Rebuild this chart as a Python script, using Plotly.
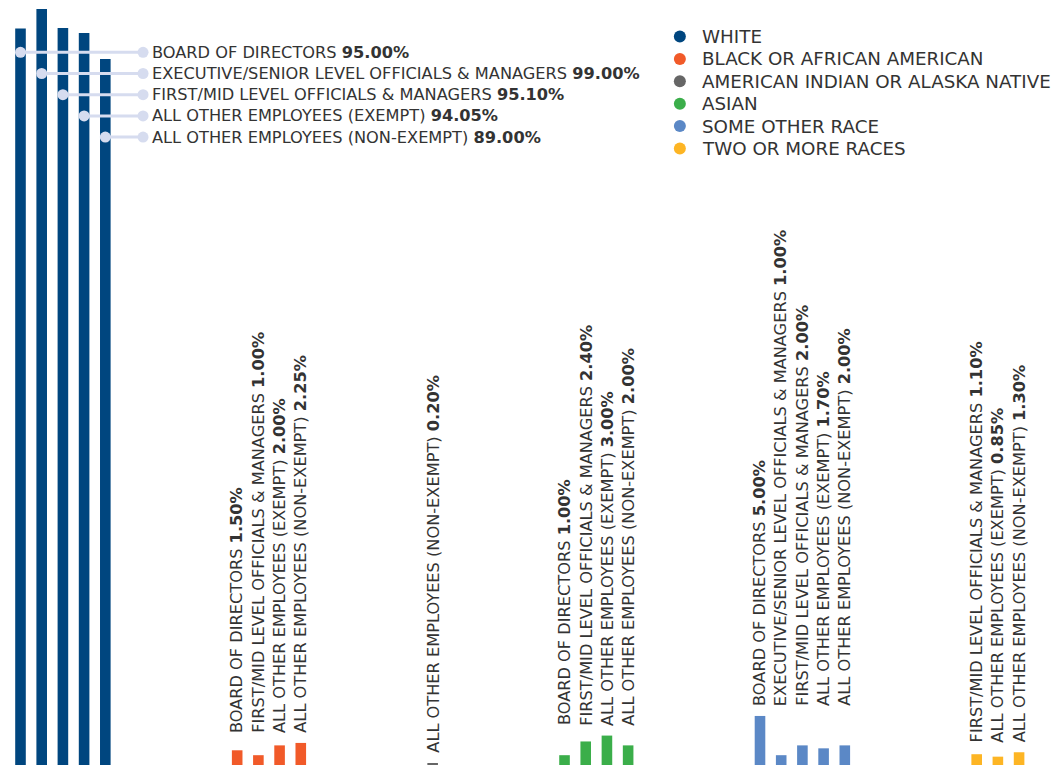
import plotly.graph_objects as go

# ---------------- data ----------------
races = ["WHITE", "BLACK OR AFRICAN AMERICAN", "AMERICAN INDIAN OR ALASKA NATIVE",
         "ASIAN", "SOME OTHER RACE", "TWO OR MORE RACES"]
categories = ["BOARD OF DIRECTORS",
              "EXECUTIVE/SENIOR LEVEL OFFICIALS & MANAGERS",
              "FIRST/MID LEVEL OFFICIALS & MANAGERS",
              "ALL OTHER EMPLOYEES (EXEMPT)",
              "ALL OTHER EMPLOYEES (NON-EXEMPT)"]
white = [95.00, 99.00, 95.10, 94.05, 89.00]
black = [1.50, None, 1.00, 2.00, 2.25]
am_indian = [None, None, None, None, 0.20]
asian = [1.00, None, 2.40, 3.00, 2.00]
other = [5.00, 1.00, 2.00, 1.70, 2.00]
two_more = [None, None, 1.10, 0.85, 1.30]
series = [white, black, am_indian, asian, other, two_more]

# ---------------- style / layout ----------------
colors = ["#00467f", "#f15a29", "#666666", "#3bae4a", "#5b88c6", "#fdb524"]
W, H = 1053, 765
FONT = "DejaVu Sans"
TXT = "#333333"
LABEL_SIZE = 16.2
LEGEND_SIZE = 18.3
GROUP_GAP = 6.22      # distance (in bar slots) between groups
BAR_W = 0.5
X_RANGE = [-0.967, 48.70]
Y_RANGE = [0, 78]             # small-value axis
Y2_RANGE = [1.2963, 2.004]    # compressed (log) axis for the dominant group
LEADER = "#d6dcef"
LABEL_DOT_X = 5.78
ROW_TOP_PX, ROW_PITCH_PX = 52.3, 21.2
LEG_DOT_X = 31.1
LEG_TOP_PX, LEG_PITCH_PX = 36.5, 22.4

fig = go.Figure()

# compute bar positions: present categories are consecutive, groups separated
pos = []
cursor = 0.0
for gi, vals in enumerate(series):
    xs = []
    for v in vals:
        if v is None:
            xs.append(None)
        else:
            xs.append(cursor)
            cursor += 1
    cursor += GROUP_GAP - 1
    pos.append(xs)

annotations = []
for gi, (race, vals, xs, col) in enumerate(zip(races, series, pos, colors)):
    bx = [x for x, v in zip(xs, vals) if v is not None]
    by = [v for v in vals if v is not None]
    fig.add_trace(go.Bar(
        x=bx, y=by, width=BAR_W, marker=dict(color=col, line=dict(width=0)),
        yaxis="y2" if gi == 0 else "y", showlegend=False, hoverinfo="skip"))
    if gi == 0:
        continue
    gmax = max(by)
    for c, v, x in zip(categories, vals, xs):
        if v is None:
            continue
        annotations.append(dict(
            x=x, y=gmax, xref="x", yref="y", textangle=-90,
            xanchor="center", yanchor="bottom", yshift=8, showarrow=False,
            text=f"{c} <b>{v:.2f}%</b>",
            font=dict(family=FONT, size=LABEL_SIZE, color=TXT)))

# leader lines for the dominant group
lx, ly = [], []
for i, (c, v, x) in enumerate(zip(categories, white, pos[0])):
    yp = 1 - (ROW_TOP_PX + ROW_PITCH_PX * i) / H
    lx += [x, LABEL_DOT_X, None]
    ly += [yp, yp, None]
    annotations.append(dict(
        x=LABEL_DOT_X, y=yp, xref="x", yref="paper", xanchor="left",
        yanchor="middle", xshift=7, showarrow=False,
        text=f"{c} <b>{v:.2f}%</b>",
        font=dict(family=FONT, size=LABEL_SIZE, color=TXT)))
fig.add_trace(go.Scatter(
    x=lx, y=ly, yaxis="y3", mode="lines+markers", showlegend=False,
    hoverinfo="skip", line=dict(color=LEADER, width=3),
    marker=dict(color=LEADER, size=11)))

# legend (round keys)
leg_y = [1 - (LEG_TOP_PX + LEG_PITCH_PX * i) / H for i in range(len(races))]
fig.add_trace(go.Scatter(
    x=[LEG_DOT_X] * len(races), y=leg_y, yaxis="y3", mode="markers",
    showlegend=False, hoverinfo="skip",
    marker=dict(color=colors, size=12)))
for race, yp in zip(races, leg_y):
    annotations.append(dict(
        x=LEG_DOT_X, y=yp, xref="x", yref="paper", xanchor="left",
        yanchor="middle", xshift=20, showarrow=False, text=race,
        font=dict(family=FONT, size=LEGEND_SIZE, color=TXT)))

fig.update_layout(
    width=W, height=H, margin=dict(l=0, r=0, t=0, b=0),
    paper_bgcolor="white", plot_bgcolor="white",
    barmode="overlay", showlegend=False,
    xaxis=dict(range=X_RANGE, visible=False, fixedrange=True),
    yaxis=dict(range=Y_RANGE, visible=False),
    yaxis2=dict(type="log", range=Y2_RANGE, overlaying="y", visible=False),
    yaxis3=dict(range=[0, 1], overlaying="y", visible=False),
    annotations=annotations,
    font=dict(family=FONT, color=TXT),
)

fig.write_html("out.html")
